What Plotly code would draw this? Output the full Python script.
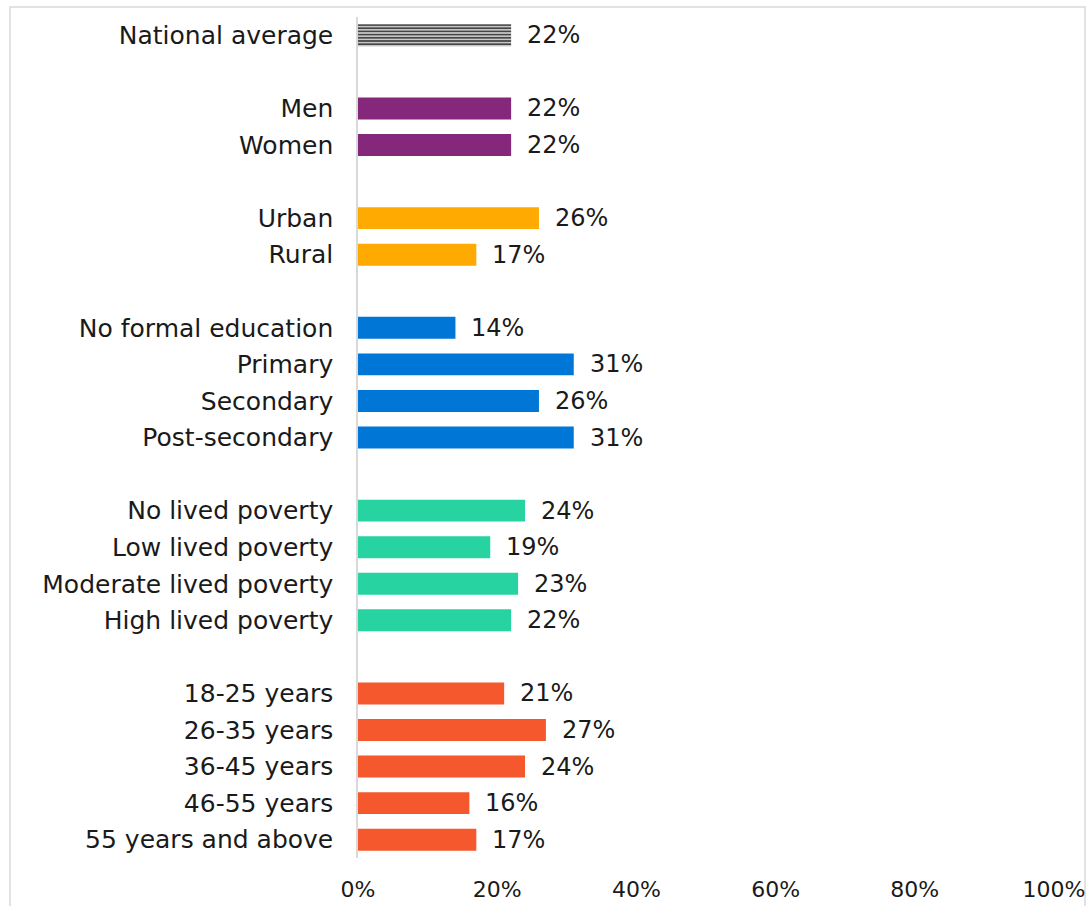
import plotly.graph_objects as go

# Survey groups: each inner list is one block of bars, blocks separated by a blank row
groups = [
    ["National average"],
    ["Men", "Women"],
    ["Urban", "Rural"],
    ["No formal education", "Primary", "Secondary", "Post-secondary"],
    ["No lived poverty", "Low lived poverty", "Moderate lived poverty", "High lived poverty"],
    ["18-25 years", "26-35 years", "36-45 years", "46-55 years", "55 years and above"],
]
values = [
    [22],
    [22, 22],
    [26, 17],
    [14, 31, 26, 31],
    [24, 19, 23, 22],
    [21, 27, 24, 16, 17],
]
group_colors = ["#e6e6e6", "#85277a", "#ffaa00", "#0077d6", "#26d3a1", "#f5582c"]

x_ticks = [0, 20, 40, 60, 80, 100]
x_tick_text = ["0%", "20%", "40%", "60%", "80%", "100%"]

# Flatten the blocks, inserting spacer categories between them
cats, vals, cols, shapes_ = [], [], [], []
order = []
for gi, (names, vs) in enumerate(zip(groups, values)):
    if gi > 0:
        order.append(" " * gi)
    for n, v in zip(names, vs):
        cats.append(n)
        vals.append(v)
        cols.append(group_colors[gi])
        shapes_.append("-" if gi == 0 else "")
        order.append(n)

FONT = "DejaVu Sans"
FSIZE = 25

fig = go.Figure()
fig.add_trace(go.Bar(
    y=cats, x=vals, orientation="h",
    marker=dict(
        color=cols,
        line=dict(width=0),
        pattern=dict(shape=shapes_, fgcolor="#2e2e2e", fgopacity=1,
                     size=3.2, solidity=0.6, fillmode="overlay"),
    ),
    hoverinfo="skip",
))

for c, v in zip(cats, vals):
    fig.add_annotation(x=v, y=c, text=f"{v}%", showarrow=False,
                       xanchor="left", xshift=14,
                       font=dict(family=FONT, size=24, color="#1a1a1a"))

# Light frame around the chart
fig.add_shape(type="rect", xref="paper", yref="paper",
              x0=(10 - 358) / 696, x1=(1085 - 358) / 696,
              y0=-1, y1=1 + 10 / 841,
              line=dict(color="#d9d9d9", width=1.5), layer="below")

fig.update_layout(
    width=1087, height=906,
    margin=dict(l=358, r=33, t=17, b=48),
    paper_bgcolor="white", plot_bgcolor="white",
    bargap=0.4, showlegend=False,
    font=dict(family=FONT, size=FSIZE, color="#1a1a1a"),
)
fig.update_xaxes(range=[0, 100], tickvals=x_ticks, ticktext=x_tick_text,
                 showgrid=False, zeroline=False, showline=False,
                 ticks="", ticklabelstandoff=16, automargin=False,
                 ticklabeloverflow="allow",
                 tickfont=dict(family=FONT, size=22, color="#1a1a1a"))
fig.update_yaxes(type="category", categoryorder="array", categoryarray=order,
                 autorange="reversed", showgrid=False, zeroline=False,
                 showline=True, linecolor="#d9d9d9", linewidth=1.5,
                 ticks="", ticklabelstandoff=18, automargin=False,
                 tickfont=dict(family=FONT, size=FSIZE, color="#1a1a1a"))

fig.write_html("out.html")
